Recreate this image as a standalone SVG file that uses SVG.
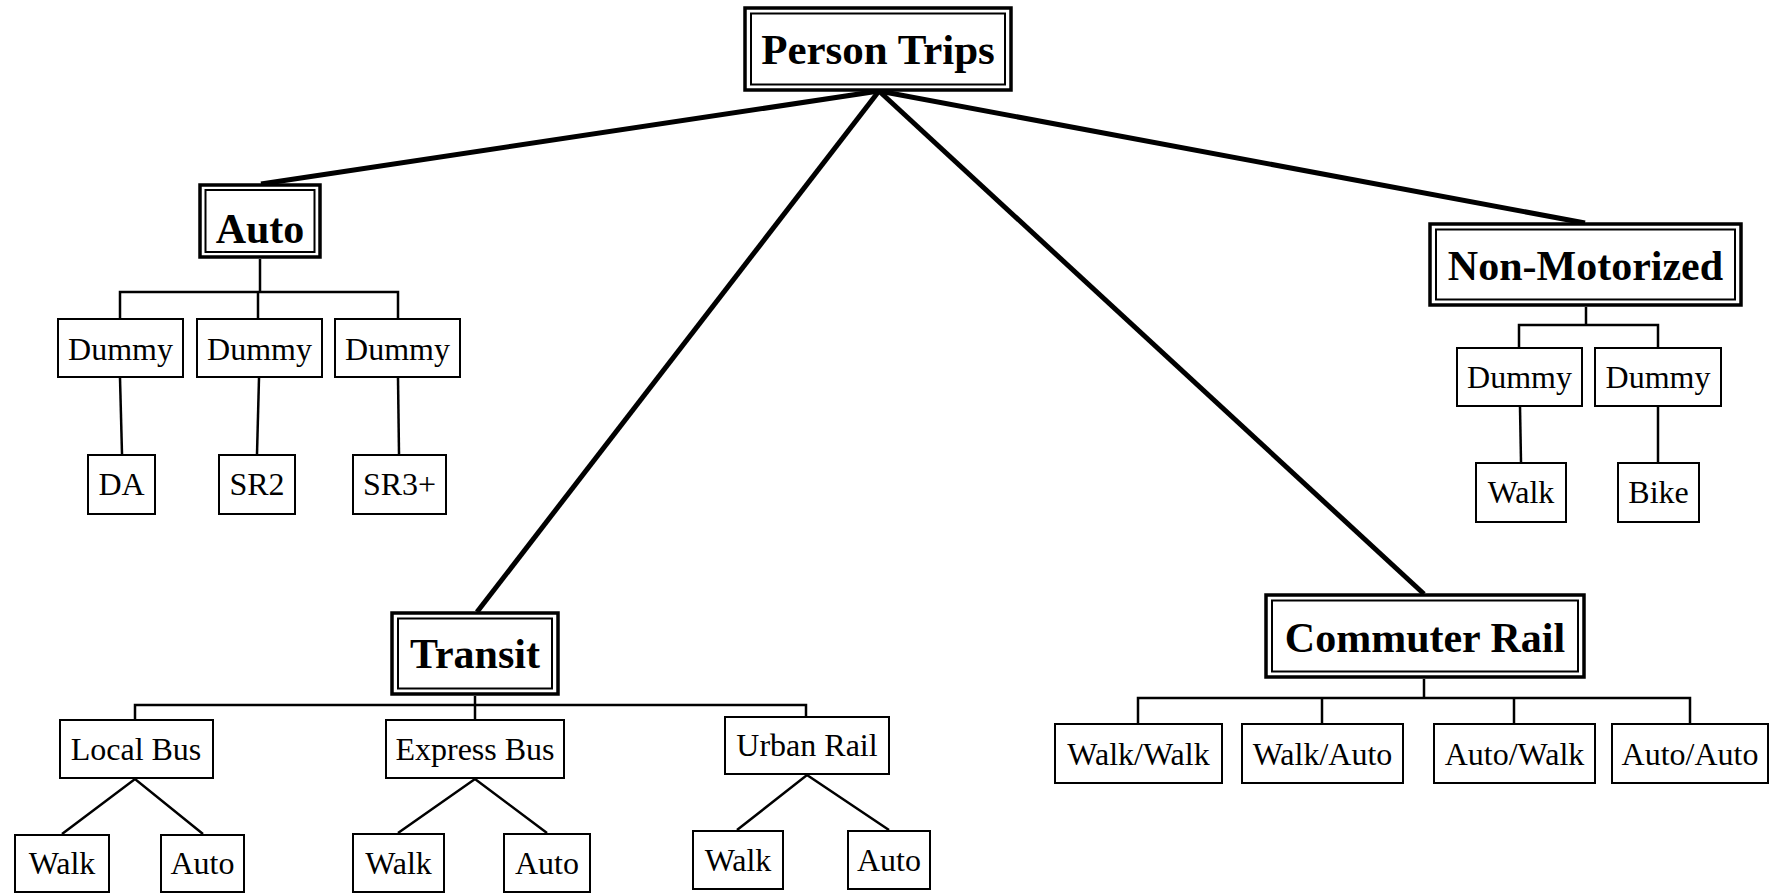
<svg xmlns="http://www.w3.org/2000/svg" width="1779" height="894" viewBox="0 0 1779 894">
  <style>
    .bg { fill: #ffffff; }
    .box { fill: #ffffff; stroke: #000000; stroke-width: 2; }
    .outer { fill: #ffffff; stroke: #000000; stroke-width: 3.5; }
    .inner { fill: none; stroke: #000000; stroke-width: 2; }
    .main { stroke: #000000; stroke-width: 5; fill: none; stroke-linecap: butt; }
    .link { stroke: #000000; stroke-width: 2.5; fill: none; }
    .head { font-family: "Liberation Serif", "Times New Roman", serif; font-weight: bold; font-size: 42px; fill: #000000; text-anchor: middle; }
    .root { font-size: 43px; }
    .lbl { font-family: "Liberation Serif", "Times New Roman", serif; font-size: 32px; fill: #000000; text-anchor: middle; }
  </style>
  <rect class="bg" x="0" y="0" width="1779" height="894"/>

  <!-- connectors -->
  <g id="connectors">
    <!-- root to the four mode groups -->
    <line class="main" x1="879" y1="91" x2="261" y2="184"/>
    <line class="main" x1="879" y1="91" x2="1585" y2="223"/>
    <line class="main" x1="879" y1="91" x2="477" y2="612"/>
    <line class="main" x1="879" y1="91" x2="1424" y2="594"/>

    <!-- Auto branch -->
    <polyline class="link" points="260,259 260,292"/>
    <polyline class="link" points="120,318 120,292 398,292 398,318"/>
    <line class="link" x1="258" y1="292" x2="258" y2="318"/>
    <line class="link" x1="120" y1="378" x2="122" y2="454"/>
    <line class="link" x1="259" y1="378" x2="257" y2="454"/>
    <line class="link" x1="398" y1="378" x2="399" y2="454"/>

    <!-- Non-Motorized branch -->
    <polyline class="link" points="1586,307 1586,325"/>
    <polyline class="link" points="1519,347 1519,325 1658,325 1658,347"/>
    <line class="link" x1="1520" y1="407" x2="1521" y2="462"/>
    <line class="link" x1="1658" y1="407" x2="1658" y2="462"/>

    <!-- Transit branch -->
    <polyline class="link" points="475,696 475,719"/>
    <polyline class="link" points="135,719 135,705 806,705 806,716"/>
    <polyline class="link" points="62,834 135,779 203,834"/>
    <polyline class="link" points="398,833 475,779 547,833"/>
    <polyline class="link" points="737,830 807,775 889,830"/>

    <!-- Commuter Rail branch -->
    <polyline class="link" points="1424,679 1424,698"/>
    <polyline class="link" points="1138,723 1138,698 1690,698 1690,723"/>
    <line class="link" x1="1322" y1="698" x2="1322" y2="723"/>
    <line class="link" x1="1514" y1="698" x2="1514" y2="723"/>
  </g>

  <!-- root -->
  <g id="person-trips">
    <rect class="outer" x="745" y="8" width="266" height="82"/>
    <rect class="inner" x="751" y="13.5" width="254" height="71"/>
    <text class="head root" x="878" y="64">Person Trips</text>
  </g>

  <!-- Auto -->
  <g id="auto">
    <rect class="outer" x="200" y="185" width="120" height="72"/>
    <rect class="inner" x="205.5" y="190" width="109" height="62"/>
    <text class="head" x="260" y="243">Auto</text>
  </g>
  <g id="auto-dummy-1">
    <rect class="box" x="58" y="319" width="125" height="58"/>
    <text class="lbl" x="120.5" y="360">Dummy</text>
  </g>
  <g id="auto-dummy-2">
    <rect class="box" x="197" y="319" width="125" height="58"/>
    <text class="lbl" x="259.5" y="360">Dummy</text>
  </g>
  <g id="auto-dummy-3">
    <rect class="box" x="335" y="319" width="125" height="58"/>
    <text class="lbl" x="397.5" y="360">Dummy</text>
  </g>
  <g id="auto-da">
    <rect class="box" x="88" y="455" width="67" height="59"/>
    <text class="lbl" x="121.5" y="495">DA</text>
  </g>
  <g id="auto-sr2">
    <rect class="box" x="219" y="455" width="76" height="59"/>
    <text class="lbl" x="257" y="495">SR2</text>
  </g>
  <g id="auto-sr3">
    <rect class="box" x="353" y="455" width="93" height="59"/>
    <text class="lbl" x="399.5" y="495">SR3+</text>
  </g>

  <!-- Non-Motorized -->
  <g id="non-motorized">
    <rect class="outer" x="1430" y="224" width="311" height="81"/>
    <rect class="inner" x="1436" y="229.5" width="299" height="70"/>
    <text class="head" x="1585.5" y="280">Non-Motorized</text>
  </g>
  <g id="nm-dummy-1">
    <rect class="box" x="1457" y="348" width="125" height="58"/>
    <text class="lbl" x="1519.5" y="388">Dummy</text>
  </g>
  <g id="nm-dummy-2">
    <rect class="box" x="1595" y="348" width="126" height="58"/>
    <text class="lbl" x="1658" y="388">Dummy</text>
  </g>
  <g id="nm-walk">
    <rect class="box" x="1476" y="463" width="90" height="59"/>
    <text class="lbl" x="1521" y="503">Walk</text>
  </g>
  <g id="nm-bike">
    <rect class="box" x="1618" y="463" width="81" height="59"/>
    <text class="lbl" x="1658.5" y="503">Bike</text>
  </g>

  <!-- Transit -->
  <g id="transit">
    <rect class="outer" x="392" y="613" width="166" height="81"/>
    <rect class="inner" x="398" y="618.5" width="154" height="70"/>
    <text class="head" x="475" y="668">Transit</text>
  </g>
  <g id="local-bus">
    <rect class="box" x="60" y="720" width="153" height="58"/>
    <text class="lbl" x="136" y="760">Local Bus</text>
  </g>
  <g id="express-bus">
    <rect class="box" x="386" y="720" width="178" height="58"/>
    <text class="lbl" x="475" y="760">Express Bus</text>
  </g>
  <g id="urban-rail">
    <rect class="box" x="725" y="717" width="164" height="57"/>
    <text class="lbl" x="807" y="756">Urban Rail</text>
  </g>
  <g id="local-walk">
    <rect class="box" x="15" y="835" width="94" height="57"/>
    <text class="lbl" x="62" y="874">Walk</text>
  </g>
  <g id="local-auto">
    <rect class="box" x="161" y="835" width="83" height="57"/>
    <text class="lbl" x="202.5" y="874">Auto</text>
  </g>
  <g id="express-walk">
    <rect class="box" x="353" y="834" width="91" height="58"/>
    <text class="lbl" x="398.5" y="874">Walk</text>
  </g>
  <g id="express-auto">
    <rect class="box" x="504" y="834" width="86" height="58"/>
    <text class="lbl" x="547" y="874">Auto</text>
  </g>
  <g id="urban-walk">
    <rect class="box" x="693" y="831" width="90" height="58"/>
    <text class="lbl" x="738" y="871">Walk</text>
  </g>
  <g id="urban-auto">
    <rect class="box" x="848" y="831" width="82" height="58"/>
    <text class="lbl" x="889" y="871">Auto</text>
  </g>

  <!-- Commuter Rail -->
  <g id="commuter-rail">
    <rect class="outer" x="1266" y="595" width="318" height="82"/>
    <rect class="inner" x="1272" y="600.5" width="306" height="71"/>
    <text class="head" x="1425" y="652">Commuter Rail</text>
  </g>
  <g id="cr-walk-walk">
    <rect class="box" x="1055" y="724" width="167" height="59"/>
    <text class="lbl" x="1138.5" y="765">Walk/Walk</text>
  </g>
  <g id="cr-walk-auto">
    <rect class="box" x="1242" y="724" width="161" height="59"/>
    <text class="lbl" x="1322.5" y="765">Walk/Auto</text>
  </g>
  <g id="cr-auto-walk">
    <rect class="box" x="1434" y="724" width="161" height="59"/>
    <text class="lbl" x="1514.5" y="765">Auto/Walk</text>
  </g>
  <g id="cr-auto-auto">
    <rect class="box" x="1612" y="724" width="156" height="59"/>
    <text class="lbl" x="1690" y="765">Auto/Auto</text>
  </g>
</svg>
